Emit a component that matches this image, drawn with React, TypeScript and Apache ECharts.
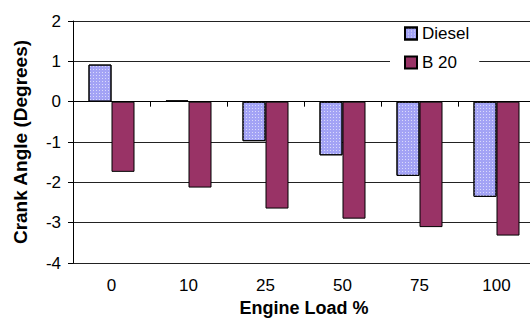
import React, { useEffect, useRef } from "react";
import * as echarts from "echarts";

const categories = ["0", "10", "25", "50", "75", "100"];
const dieselValues = [0.92, 0.03, -0.98, -1.33, -1.84, -2.36];
const b20Values = [-1.74, -2.13, -2.65, -2.9, -3.11, -3.32];
const yTicks = { min: -4, max: 2, interval: 1 };

const FONT = "Arial, 'Liberation Sans', sans-serif";

export default function App() {
  const ref = useRef<HTMLDivElement>(null);
  useEffect(() => {
    if (!ref.current) return;
    const chart = echarts.init(ref.current, undefined, { renderer: "svg" });
    chart.setOption({
      animation: false,
      backgroundColor: "#fff",
      textStyle: { fontFamily: FONT },
      grid: { left: 73, top: 21, height: 242, right: -5, outerBoundsMode: "none", containLabel: false },
      legend: {
        orient: "vertical",
        left: 390,
        top: 23,
        padding: [2, 10, 2, 14],
        backgroundColor: "#fff",
        itemWidth: 12,
        itemHeight: 12,
        itemGap: 12,
        icon: "rect",
        textStyle: { fontSize: 17, color: "#000", fontFamily: FONT, padding: [0, 0, 0, 0] },
        data: ["Diesel", "B 20"],
      },
      xAxis: [
        {
          type: "category",
          data: categories,
          position: "bottom",
          axisLine: { show: false, onZero: false },
          axisTick: { show: false },
          axisLabel: { fontSize: 17, color: "#000", margin: 14, fontFamily: FONT },
          name: "Engine Load %",
          nameLocation: "middle",
          nameGap: 35,
          nameTextStyle: { fontSize: 18, fontWeight: "bold", color: "#000", fontFamily: FONT },
        },
        {
          type: "category",
          data: categories,
          position: "bottom",
          axisLine: { show: true, onZero: true, lineStyle: { color: "#000", width: 1 } },
          axisTick: { show: true, length: 5, lineStyle: { color: "#000" } },
          axisLabel: { show: false },
        },
      ],
      yAxis: {
        type: "value",
        min: yTicks.min,
        max: yTicks.max,
        interval: yTicks.interval,
        axisLine: { show: true, lineStyle: { color: "#000", width: 1 } },
        axisTick: { show: true, length: 5, lineStyle: { color: "#000" } },
        splitLine: { show: true, lineStyle: { color: "#222", width: 1 } },
        axisLabel: { fontSize: 17, color: "#000", margin: 12, fontFamily: FONT },
        name: "Crank Angle (Degrees)",
        nameLocation: "middle",
        nameGap: 43,
        nameRotate: 90,
        nameTextStyle: { fontSize: 19, fontWeight: "bold", color: "#000", fontFamily: FONT },
      },
      series: [
        {
          name: "Diesel",
          type: "bar",
          data: dieselValues,
          barWidth: 23,
          barGap: "0%",
          itemStyle: {
            color: "#a3a3f5",
            borderColor: "#000",
            borderWidth: 1,
            decal: {
              symbol: "rect",
              symbolSize: 1,
              color: "rgba(255,255,255,0.6)",
              dashArrayX: [1, 2],
              dashArrayY: [1, 2],
              rotation: 0,
            },
          },
        },
        {
          name: "B 20",
          type: "bar",
          data: b20Values,
          barWidth: 23,
          barGap: "0%",
          itemStyle: { color: "#993366", borderColor: "#000", borderWidth: 1 },
        },
      ],
    });
    return () => chart.dispose();
  }, []);
  return (
    <div
      ref={ref}
      style={{ position: "fixed", left: 0, top: 0, width: 530, height: 320 }}
    />
  );
}
